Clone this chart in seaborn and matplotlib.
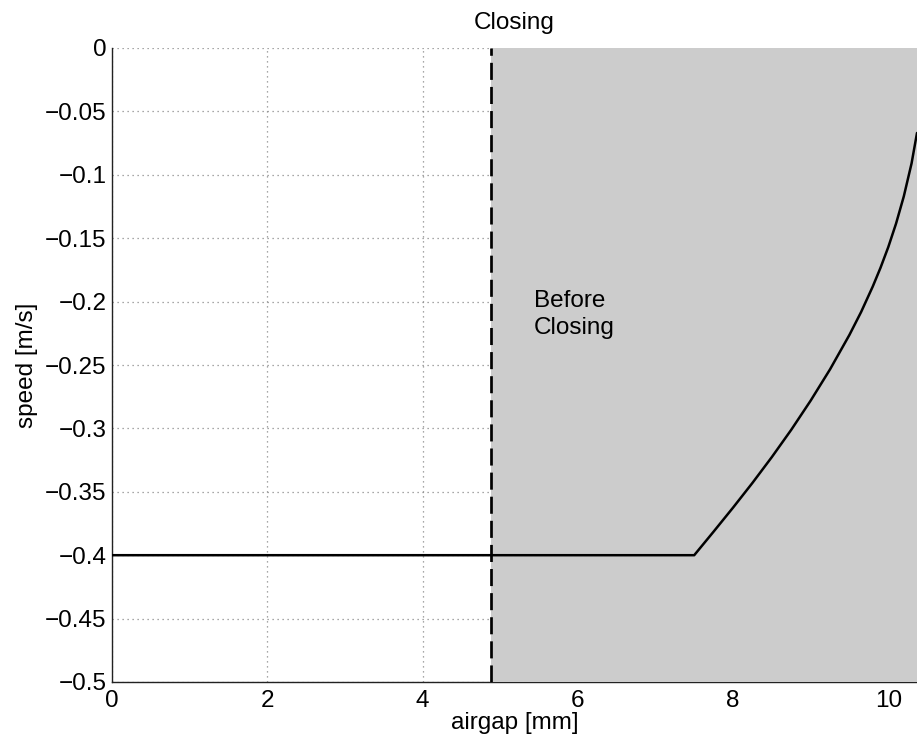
import numpy as np
import pandas as pd
import matplotlib
matplotlib.use("Agg")
import matplotlib.pyplot as plt
import seaborn as sns

# ---- data ----
airgap_mm = [0.0, 7.5, 7.75, 8.0, 8.25, 8.5, 8.75, 9.0, 9.25, 9.5, 9.65, 9.8, 9.9,
             10.0, 10.1, 10.2, 10.3, 10.37]
speed_ms = [-0.4, -0.4, -0.3814, -0.3625, -0.343, -0.3226, -0.3011, -0.2781, -0.2534,
            -0.2262, -0.2082, -0.1881, -0.1733, -0.157, -0.1385, -0.117, -0.091, -0.067]
closing_boundary = 4.885
x_limits = (0.0, 10.37)
y_limits = (-0.5, 0.0)
x_ticks = [0, 2, 4, 6, 8, 10]
x_tick_labels = ["0", "2", "4", "6", "8", "10"]
y_ticks = [-0.5, -0.45, -0.4, -0.35, -0.3, -0.25, -0.2, -0.15, -0.1, -0.05, 0.0]
y_tick_labels = ["\u22120.5", "\u22120.45", "\u22120.4", "\u22120.35", "\u22120.3", "\u22120.25",
                 "\u22120.2", "\u22120.15", "\u22120.1", "\u22120.05", "0"]
title_text = "Closing"
x_label = "airgap [mm]"
y_label = "speed [m/s]"
region_label = "Before\nClosing"

sns.set_theme(style="white")
plt.rcParams["font.family"] = ["Liberation Sans", "DejaVu Sans"]
plt.rcParams["text.color"] = "black"
plt.rcParams["axes.labelcolor"] = "black"
FS = 17.5

fig = plt.figure(figsize=(9.17, 7.46), dpi=100)
ax = fig.add_axes([112 / 917, (746 - 682) / 746, (917 - 112) / 917, (682 - 48) / 746])

df = pd.DataFrame({"airgap": airgap_mm, "speed": speed_ms})

ax.set_xlim(*x_limits)
ax.set_ylim(*y_limits)
ax.set_xticks(x_ticks)
ax.set_xticklabels(x_tick_labels, fontsize=FS)
ax.set_yticks(y_ticks)
ax.set_yticklabels(y_tick_labels, fontsize=FS)

ax.grid(True, linestyle=(0, (1, 3)), color="#8a8a8a", linewidth=0.9)
ax.set_axisbelow(True)

ax.axvspan(closing_boundary, x_limits[1] + 1, color="#cccccc", lw=0, zorder=2.6)
ax.axvline(closing_boundary, color="black", linewidth=1.95, linestyle=(0, (6.3, 2.6)), zorder=3)

sns.lineplot(data=df, x="airgap", y="speed", sort=False, color="black",
             linewidth=1.8, ax=ax, zorder=4)

ax.text(5.43, -0.191, region_label, fontsize=FS, ha="left", va="top",
        linespacing=1.3, zorder=5, color="black")

for side in ["top", "right"]:
    ax.spines[side].set_visible(False)
for side in ["left", "bottom"]:
    ax.spines[side].set_color("#222222")
    ax.spines[side].set_linewidth(1.0)

ax.tick_params(axis="both", direction="in", length=7, width=1.0, color="#222222",
               labelcolor="black", pad=4)
ax.tick_params(axis="x", pad=6)

ax.set_xlabel(x_label, fontsize=FS, labelpad=0, color="black")
ax.set_ylabel(y_label, fontsize=FS, labelpad=5, color="black")
ax.set_title(title_text, fontsize=FS, pad=14, color="black")

fig.savefig("out.png", dpi=100)
